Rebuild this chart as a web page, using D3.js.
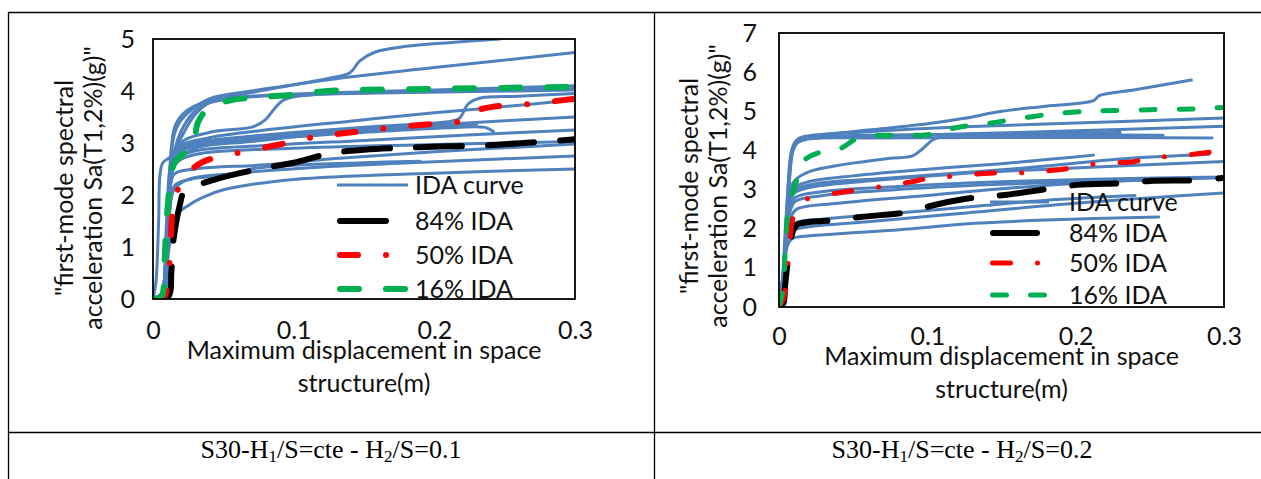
<!DOCTYPE html>
<html>
<head>
<meta charset="utf-8">
<script src="https://cdn.jsdelivr.net/npm/d3@7/dist/d3.min.js"></script>
<style>
  html, body { margin: 0; padding: 0; background: #fff; }
  svg { display: block; }
</style>
</head>
<body>
<svg id="fig" width="1261" height="479"></svg>
<script>
// ---------- data ----------
const xTicks = [0, 0.1, 0.2, 0.3];
const xTickLabels = ["0", "0.1", "0.2", "0.3"];
const yTicksLeft = [0, 1, 2, 3, 4, 5];
const yTicksRight = [0, 1, 2, 3, 4, 5, 6, 7];
const legendLabels = ["IDA curve", "84% IDA", "50% IDA", "16% IDA"];
const xTitleLines = ["Maximum displacement in space", "structure(m)"];
const yTitleLines = ["\"first-mode spectral", "acceleration Sa(T1,2%)(g)\""];
const captionLeft = ["S30-H", "1", "/S=cte - H", "2", "/S=0.1"];
const captionRight = ["S30-H", "1", "/S=cte - H", "2", "/S=0.2"];

// individual IDA curves, H2/S = 0.1  [displacement (m), Sa (g)]
const idaCurvesLeft = [
  [[0,0],[0.006,0.1],[0.009,1.0],[0.011,2.0],[0.0125,2.6],[0.015,3.15],[0.019,3.4],[0.028,3.65],[0.04,3.85],[0.07,4.0],[0.1,4.12],[0.126,4.25],[0.14,4.35],[0.147,4.58],[0.158,4.75],[0.18,4.86],[0.21,4.93],[0.247,5.0]],
  [[0,0],[0.006,0.1],[0.0095,1.2],[0.0115,2.2],[0.013,2.9],[0.016,3.35],[0.024,3.62],[0.038,3.8],[0.07,3.97],[0.12,4.2],[0.2,4.45],[0.3,4.74]],
  [[0,0],[0.007,0.1],[0.01,1.2],[0.012,2.2],[0.0135,2.6],[0.018,3.1],[0.026,3.5],[0.035,3.72],[0.05,3.83],[0.09,3.92],[0.15,3.97],[0.22,4.0],[0.3,4.05]],
  [[0,0],[0.006,0.1],[0.0095,1.4],[0.0115,2.4],[0.014,2.75],[0.02,3.1],[0.03,3.55],[0.042,3.8],[0.07,3.9],[0.12,3.96],[0.2,4.02],[0.3,4.1]],
  [[0,0],[0.007,0.1],[0.01,1.2],[0.012,2.2],[0.015,2.8],[0.022,3.05],[0.043,3.22],[0.071,3.31],[0.08,3.45],[0.086,3.65],[0.093,3.83],[0.11,3.92],[0.16,3.96],[0.23,3.99],[0.3,4.02]],
  [[0,0],[0.006,0.1],[0.0095,1.2],[0.0115,2.2],[0.013,2.65],[0.02,2.95],[0.04,3.1],[0.08,3.25],[0.14,3.42],[0.2,3.58],[0.25,3.7],[0.3,3.83]],
  [[0,0],[0.007,0.1],[0.01,1.3],[0.012,2.3],[0.015,2.75],[0.025,2.97],[0.05,3.08],[0.1,3.2],[0.16,3.32],[0.212,3.42],[0.218,3.48],[0.224,3.75],[0.232,3.86],[0.26,3.9],[0.3,3.95]],
  [[0,0],[0.006,0.1],[0.0095,1.1],[0.0115,2.1],[0.0135,2.6],[0.02,2.88],[0.05,3.0],[0.1,3.12],[0.16,3.22],[0.215,3.3],[0.236,3.3],[0.242,3.22]],
  [[0,0],[0.007,0.1],[0.01,1.3],[0.0125,2.3],[0.016,2.75],[0.03,2.95],[0.08,3.1],[0.15,3.27],[0.22,3.38],[0.3,3.5]],
  [[0,0],[0.007,0.1],[0.0105,1.4],[0.013,2.35],[0.017,2.7],[0.03,2.85],[0.08,2.95],[0.15,3.05],[0.22,3.15],[0.3,3.25]],
  [[0,0],[0.006,0.1],[0.0095,1.2],[0.012,2.15],[0.016,2.6],[0.03,2.78],[0.1,2.9],[0.2,2.97],[0.3,3.03]],
  [[0,0],[0.007,0.1],[0.01,1.2],[0.0125,2.2],[0.015,2.62],[0.03,2.9],[0.07,3.03],[0.12,3.17],[0.17,3.28],[0.195,3.33]],
  [[0,0],[0.007,0.1],[0.01,1.0],[0.012,1.7],[0.015,2.1],[0.025,2.3],[0.06,2.42],[0.12,2.54],[0.2,2.64],[0.3,2.75]],
  [[0,0],[0.008,0.1],[0.011,0.9],[0.0135,1.3],[0.017,1.62],[0.024,1.78],[0.035,1.95],[0.05,2.1],[0.1,2.3],[0.2,2.42],[0.3,2.5]],
  [[0,0],[0.007,0.1],[0.01,1.1],[0.0125,1.9],[0.016,2.2],[0.03,2.32],[0.055,2.38],[0.07,2.5],[0.1,2.57],[0.15,2.62],[0.19,2.65]],
  [[0,0],[0.006,0.1],[0.0095,1.1],[0.012,2.05],[0.015,2.4],[0.03,2.5],[0.08,2.58],[0.13,2.7],[0.2,2.83],[0.3,2.98]],
  [[0,0],[0.002,0.3],[0.004,1.5],[0.005,2.4],[0.007,2.62],[0.012,2.72],[0.02,2.88],[0.05,3.05],[0.1,3.17],[0.18,3.3],[0.23,3.36]]
];
const p84Left = [[0,0],[0.011,0.05],[0.013,0.5],[0.014,1.0],[0.016,1.4],[0.019,1.8],[0.022,2.05],[0.033,2.2],[0.048,2.33],[0.083,2.54],[0.1,2.62],[0.126,2.8],[0.15,2.87],[0.19,2.92],[0.24,2.96],[0.3,3.07]];
const p50Left = [[0,0],[0.008,0.05],[0.011,0.5],[0.0125,1.0],[0.0135,1.6],[0.016,2.0],[0.021,2.25],[0.028,2.5],[0.035,2.63],[0.045,2.72],[0.064,2.83],[0.09,2.97],[0.115,3.12],[0.14,3.2],[0.167,3.29],[0.2,3.37],[0.22,3.43],[0.228,3.6],[0.24,3.69],[0.267,3.75],[0.3,3.85]];
const p16Left = [[0,0],[0.006,0.05],[0.008,0.6],[0.009,1.2],[0.0105,1.8],[0.012,2.2],[0.015,2.6],[0.022,2.8],[0.028,2.9],[0.032,3.4],[0.04,3.68],[0.055,3.82],[0.075,3.88],[0.1,3.93],[0.124,4.0],[0.2,4.04],[0.3,4.08]];

// individual IDA curves, H2/S = 0.2
const idaCurvesRight = [
  [[0,0],[0.002,0.5],[0.004,1.8],[0.006,3.0],[0.008,3.9],[0.011,4.22],[0.016,4.32],[0.03,4.4],[0.06,4.52],[0.1,4.68],[0.125,4.82],[0.15,5.0],[0.18,5.13],[0.212,5.27],[0.216,5.4],[0.24,5.55],[0.278,5.8]],
  [[0,0],[0.003,0.9],[0.005,2.2],[0.007,3.4],[0.009,4.05],[0.013,4.3],[0.022,4.38],[0.06,4.48],[0.12,4.6],[0.2,4.7],[0.3,4.83]],
  [[0,0],[0.003,0.8],[0.005,2.0],[0.007,3.2],[0.0095,4.0],[0.014,4.25],[0.03,4.33],[0.1,4.4],[0.2,4.5],[0.3,4.62]],
  [[0,0],[0.003,0.7],[0.0055,2.2],[0.0075,3.5],[0.01,4.1],[0.016,4.3],[0.05,4.38],[0.15,4.4],[0.259,4.39]],
  [[0,0],[0.003,0.9],[0.005,2.3],[0.0075,3.6],[0.011,4.15],[0.018,4.28],[0.06,4.32],[0.18,4.33],[0.292,4.32]],
  [[0,0],[0.003,0.8],[0.005,2.0],[0.007,2.8],[0.01,3.2],[0.02,3.45],[0.045,3.65],[0.075,3.8],[0.09,3.86],[0.097,4.05],[0.104,4.28],[0.115,4.38],[0.16,4.43],[0.23,4.46]],
  [[0,0],[0.003,0.9],[0.005,2.1],[0.007,2.75],[0.01,3.05],[0.02,3.2],[0.05,3.35],[0.1,3.52],[0.15,3.66],[0.19,3.8],[0.212,3.88]],
  [[0,0],[0.003,0.8],[0.005,1.9],[0.007,2.6],[0.01,2.9],[0.02,3.05],[0.06,3.22],[0.12,3.4],[0.18,3.52],[0.24,3.62],[0.3,3.72]],
  [[0,0],[0.003,0.7],[0.005,1.8],[0.0075,2.55],[0.011,2.8],[0.03,2.95],[0.08,3.08],[0.15,3.2],[0.22,3.27],[0.3,3.32]],
  [[0,0],[0.003,0.9],[0.005,2.0],[0.007,2.7],[0.011,3.0],[0.025,3.15],[0.07,3.28],[0.13,3.45],[0.18,3.6],[0.23,3.78],[0.29,3.9]],
  [[0,0],[0.002,0.5],[0.004,1.2],[0.006,1.6],[0.009,1.75],[0.015,1.8],[0.04,1.87],[0.09,2.0],[0.125,2.12],[0.18,2.22],[0.256,2.3]],
  [[0,0],[0.002,0.6],[0.004,1.4],[0.006,1.8],[0.009,1.95],[0.02,2.05],[0.06,2.18],[0.12,2.38],[0.2,2.65],[0.3,2.91]],
  [[0,0],[0.003,0.7],[0.005,1.6],[0.007,2.0],[0.011,2.15],[0.03,2.25],[0.08,2.4],[0.14,2.6],[0.19,2.75],[0.24,2.85]],
  [[0,0],[0.003,0.8],[0.005,1.8],[0.008,2.3],[0.012,2.5],[0.04,2.65],[0.1,2.85],[0.16,3.05],[0.22,3.2],[0.3,3.3]],
  [[0,0],[0.003,0.8],[0.005,1.9],[0.0075,2.45],[0.011,2.7],[0.03,2.85],[0.08,3.0],[0.14,3.12],[0.2,3.2],[0.26,3.25]]
];
const p84Right = [[0,0],[0.003,0.1],[0.004,0.5],[0.006,1.2],[0.008,1.7],[0.0095,1.95],[0.012,2.1],[0.02,2.17],[0.039,2.22],[0.055,2.3],[0.088,2.43],[0.104,2.6],[0.125,2.76],[0.137,2.81],[0.152,2.86],[0.185,3.04],[0.201,3.12],[0.235,3.17],[0.25,3.22],[0.284,3.24],[0.3,3.3]];
const p50Right = [[0,0],[0.003,0.2],[0.005,0.7],[0.007,1.5],[0.009,2.2],[0.012,2.6],[0.022,2.8],[0.039,2.91],[0.053,2.99],[0.071,3.09],[0.088,3.19],[0.103,3.3],[0.12,3.35],[0.142,3.42],[0.16,3.42],[0.169,3.45],[0.187,3.5],[0.202,3.58],[0.218,3.68],[0.237,3.7],[0.25,3.8],[0.268,3.86],[0.285,3.93],[0.3,4.01]];
const p16Right = [[0,0],[0.003,0.5],[0.004,1.3],[0.005,2.0],[0.006,2.4],[0.009,2.9],[0.012,3.24],[0.0175,3.76],[0.026,3.93],[0.042,4.06],[0.051,4.27],[0.063,4.37],[0.08,4.39],[0.1,4.4],[0.112,4.52],[0.125,4.62],[0.143,4.7],[0.168,4.85],[0.192,4.96],[0.217,5.01],[0.25,5.04],[0.28,5.06],[0.3,5.1]];

// ---------- layout ----------
const svg = d3.select("#fig");
const FONT = "Lato, 'Noto Sans', sans-serif";
const FS = 25;
const BLUE = "#4f81bd", BLACK = "#000000", RED = "#ff0000", GREEN = "#00b050";

svg.append("rect").attr("width", 1261).attr("height", 479).attr("fill", "#fff");

// table rules
const rules = svg.append("g").attr("stroke", "#000").attr("stroke-width", 1.3);
rules.append("line").attr("x1", 8).attr("x2", 1261).attr("y1", 12.5).attr("y2", 12.5);
rules.append("line").attr("x1", 8).attr("x2", 1261).attr("y1", 432.5).attr("y2", 432.5);
rules.append("line").attr("x1", 8.5).attr("x2", 8.5).attr("y1", 12).attr("y2", 479);
rules.append("line").attr("x1", 654.5).attr("x2", 654.5).attr("y1", 12).attr("y2", 479);

const panels = [
  {
    id: "a", left: 153, right: 575, top: 39, bottom: 299, yMax: 5, yTicks: yTicksLeft,
    curves: idaCurvesLeft, p84: p84Left, p50: p50Left, p16: p16Left,
    blueW: 3, blackW: 6, redW: 6, greenW: 6,
    blackDash: "46 26", redDash: "18 28 0 28", greenDash: "19 27",
    xPad: 22, yPad: 18,
    yTitle: { x: 73, y: 188, gap: 29 },
    xTitle: { y: 359, gap: 33 },
    legend: { x0: 337, x1: 408, tx: 415, ys: [185, 221, 255, 289] },
    caption: { x: 331, y: 458, parts: captionLeft }
  },
  {
    id: "b", left: 779, right: 1224, top: 33, bottom: 307, yMax: 7, yTicks: yTicksRight,
    curves: idaCurvesRight, p84: p84Right, p50: p50Right, p16: p16Right,
    blueW: 3, blackW: 6, redW: 5, greenW: 5,
    blackDash: "44 29", redDash: "18 27 0 27", greenDash: "14 24",
    xPad: 20, yPad: 22,
    yTitle: { x: 698, y: 186, gap: 29 },
    xTitle: { y: 365, gap: 33 },
    legend: { x0: 990, x1: 1049, tx: 1069, ys: [202, 233, 263, 295] },
    caption: { x: 962, y: 458, parts: captionRight }
  }
];

panels.forEach(p => {
  const x = d3.scaleLinear().domain([0, 0.3]).range([p.left, p.right]);
  const y = d3.scaleLinear().domain([0, p.yMax]).range([p.bottom, p.top]);
  const line = d3.line().x(d => x(d[0])).y(d => y(d[1])).curve(d3.curveCatmullRom.alpha(0.5));

  const clipId = "clip-" + p.id;
  svg.append("clipPath").attr("id", clipId).append("rect")
    .attr("x", p.left).attr("y", p.top)
    .attr("width", p.right - p.left).attr("height", p.bottom - p.top);

  const plot = svg.append("g").attr("clip-path", `url(#${clipId})`);
  plot.selectAll("path.ida").data(p.curves).join("path")
    .attr("class", "ida").attr("d", line)
    .attr("fill", "none").attr("stroke", BLUE).attr("stroke-width", p.blueW)
    .attr("stroke-linejoin", "round").attr("stroke-linecap", "round");

  const stats = [
    { data: p.p84, color: BLACK, w: p.blackW, dash: p.blackDash },
    { data: p.p50, color: RED, w: p.redW, dash: p.redDash },
    { data: p.p16, color: GREEN, w: p.greenW, dash: p.greenDash }
  ];
  plot.selectAll("path.stat").data(stats).join("path")
    .attr("class", "stat").attr("d", s => line(s.data))
    .attr("fill", "none").attr("stroke", s => s.color).attr("stroke-width", s => s.w)
    .attr("stroke-dasharray", s => s.dash)
    .attr("stroke-linecap", "round").attr("stroke-linejoin", "round");

  // plot frame
  svg.append("rect").attr("x", p.left).attr("y", p.top)
    .attr("width", p.right - p.left).attr("height", p.bottom - p.top)
    .attr("fill", "none").attr("stroke", "#000").attr("stroke-width", 1.8);

  // axes (labels only)
  const xAxis = svg.append("g").attr("transform", `translate(0,${p.bottom})`)
    .call(d3.axisBottom(x).tickValues(xTicks).tickSize(0).tickPadding(p.xPad)
      .tickFormat((d, i) => xTickLabels[i]));
  const yAxis = svg.append("g").attr("transform", `translate(${p.left},0)`)
    .call(d3.axisLeft(y).tickValues(p.yTicks).tickSize(0).tickPadding(p.yPad)
      .tickFormat(d3.format("d")));
  [xAxis, yAxis].forEach(a => {
    a.select(".domain").remove();
    a.selectAll("text").attr("font-family", FONT).attr("font-size", FS).attr("fill", "#111");
  });

  // axis titles
  const xt = svg.append("text").attr("font-family", FONT).attr("font-size", FS)
    .attr("fill", "#111").attr("text-anchor", "middle");
  xTitleLines.forEach((t, i) => xt.append("tspan")
    .attr("x", (p.left + p.right) / 2).attr("y", p.xTitle.y + i * p.xTitle.gap).text(t));

  const yt = svg.append("text").attr("font-family", FONT).attr("font-size", FS)
    .attr("fill", "#111").attr("text-anchor", "middle")
    .attr("transform", `translate(${p.yTitle.x},${p.yTitle.y}) rotate(-90)`);
  yTitleLines.forEach((t, i) => yt.append("tspan")
    .attr("x", 0).attr("y", i * p.yTitle.gap).text(t));

  // legend
  const lg = svg.append("g");
  const samples = [
    { color: BLUE, w: p.blueW, dash: null },
    { color: BLACK, w: p.blackW, dash: p.blackDash },
    { color: RED, w: p.redW, dash: p.redDash },
    { color: GREEN, w: p.greenW, dash: p.greenDash }
  ];
  samples.forEach((s, i) => {
    const ly = p.legend.ys[i];
    lg.append("line")
      .attr("x1", p.legend.x0 + (s.dash ? s.w / 2 : 0)).attr("x2", p.legend.x1 - (s.dash ? s.w / 2 : 0))
      .attr("y1", ly).attr("y2", ly)
      .attr("stroke", s.color).attr("stroke-width", s.w)
      .attr("stroke-dasharray", s.dash).attr("stroke-linecap", s.dash ? "round" : "butt");
    lg.append("text").attr("x", p.legend.tx).attr("y", ly).attr("dy", "0.36em")
      .attr("font-family", FONT).attr("font-size", FS).attr("fill", "#111")
      .text(legendLabels[i]);
  });

  // caption with subscripts
  const cap = svg.append("text").attr("x", p.caption.x).attr("y", p.caption.y)
    .attr("text-anchor", "middle").attr("font-family", "'Liberation Serif', 'Times New Roman', serif")
    .attr("font-size", 26).attr("fill", "#000");
  p.caption.parts.forEach((t, i) => {
    const sub = i % 2 === 1;
    cap.append("tspan").attr("font-size", sub ? 17 : 26)
      .attr("dy", sub ? 4 : (i > 0 ? -4 : 0)).text(t);
  });
});
</script>
</body>
</html>
